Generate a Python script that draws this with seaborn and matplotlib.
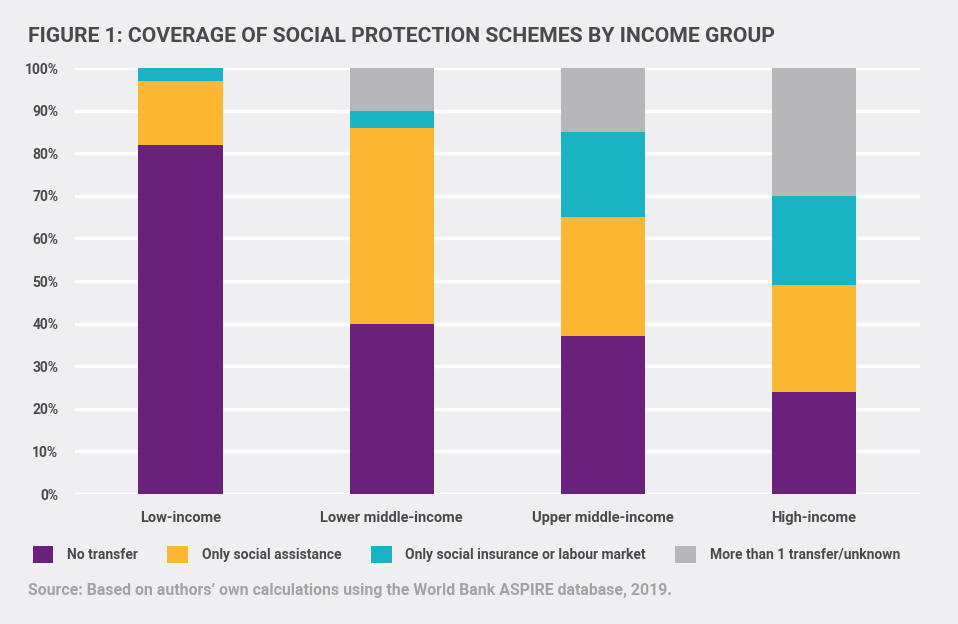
import numpy as np
import pandas as pd
import matplotlib
matplotlib.use('Agg')
import matplotlib.pyplot as plt
from matplotlib.patches import Patch
import seaborn as sns

# data (percent of population)
groups = ['Low-income', 'Lower middle-income', 'Upper middle-income', 'High-income']
series = ['No transfer', 'Only social assistance',
          'Only social insurance or labour market', 'More than 1 transfer/unknown']
no_transfer = [82, 40, 37, 24]
only_assistance = [15, 46, 28, 25]
only_insurance = [3, 4, 20, 21]
more_than_one = [0, 10, 15, 30]
colors = ['#6a217c', '#fbb731', '#19b3c3', '#b7b6b8']
yticks = [0, 10, 20, 30, 40, 50, 60, 70, 80, 90, 100]

bg = '#efeff1'
dark = '#4a4a4d'

sns.set_theme(style='white')
plt.rcParams['font.family'] = ['Roboto', 'DejaVu Sans']

df = pd.DataFrame({'group': groups,
                   series[0]: no_transfer,
                   series[1]: only_assistance,
                   series[2]: only_insurance,
                   series[3]: more_than_one})
# cumulative tops, drawn from the top layer down so lower ones sit in front
cum = df[series].cumsum(axis=1)

fig = plt.figure(figsize=(9.58, 6.24), dpi=100, facecolor=bg)
ax = fig.add_axes([0.0783, 0.2083, 0.8817, 0.6827], facecolor=bg)

for s, c in reversed(list(zip(series, colors))):
    sns.barplot(x=df['group'], y=cum[s], color=c, width=0.4, ax=ax,
                saturation=1, linewidth=0, zorder=3)

ax.set_ylim(0, 100)
ax.set_xlim(-0.5, 3.5)
ax.set_yticks(yticks)
ax.set_yticklabels([f'{v}%' for v in yticks])
ax.yaxis.grid(True, color='white', linewidth=2.5, zorder=0)
ax.set_axisbelow(True)
for sp in ax.spines.values():
    sp.set_visible(False)
ax.set_xlabel('')
ax.set_ylabel('')
ax.tick_params(axis='y', length=0, pad=12, labelsize=10, labelcolor=dark)
ax.tick_params(axis='x', length=0, pad=12, labelsize=10.5, labelcolor=dark)
for t in ax.get_yticklabels() + ax.get_xticklabels():
    t.set_fontweight('bold')

fig.text(0.029, 0.942, 'FIGURE 1: COVERAGE OF SOCIAL PROTECTION SCHEMES BY INCOME GROUP',
         fontsize=15.2, fontweight='bold', color=dark, va='center')

handles = [Patch(facecolor=c, edgecolor='none') for c in colors]
leg = fig.legend(handles, series, loc='center left', bbox_to_anchor=(0.021, 0.112),
                 ncol=4, frameon=False, handlelength=1.5, handleheight=1.5,
                 handletextpad=1.0, columnspacing=2.1, fontsize=10)
for t in leg.get_texts():
    t.set_color(dark)
    t.set_fontweight('bold')

fig.text(0.029, 0.054, 'Source: Based on authors\u2019 own calculations using the World Bank ASPIRE database, 2019.',
         fontsize=11.4, fontweight='bold', color='#a3a3a6', va='center')

fig.savefig('out.png', dpi=100, facecolor=bg)
